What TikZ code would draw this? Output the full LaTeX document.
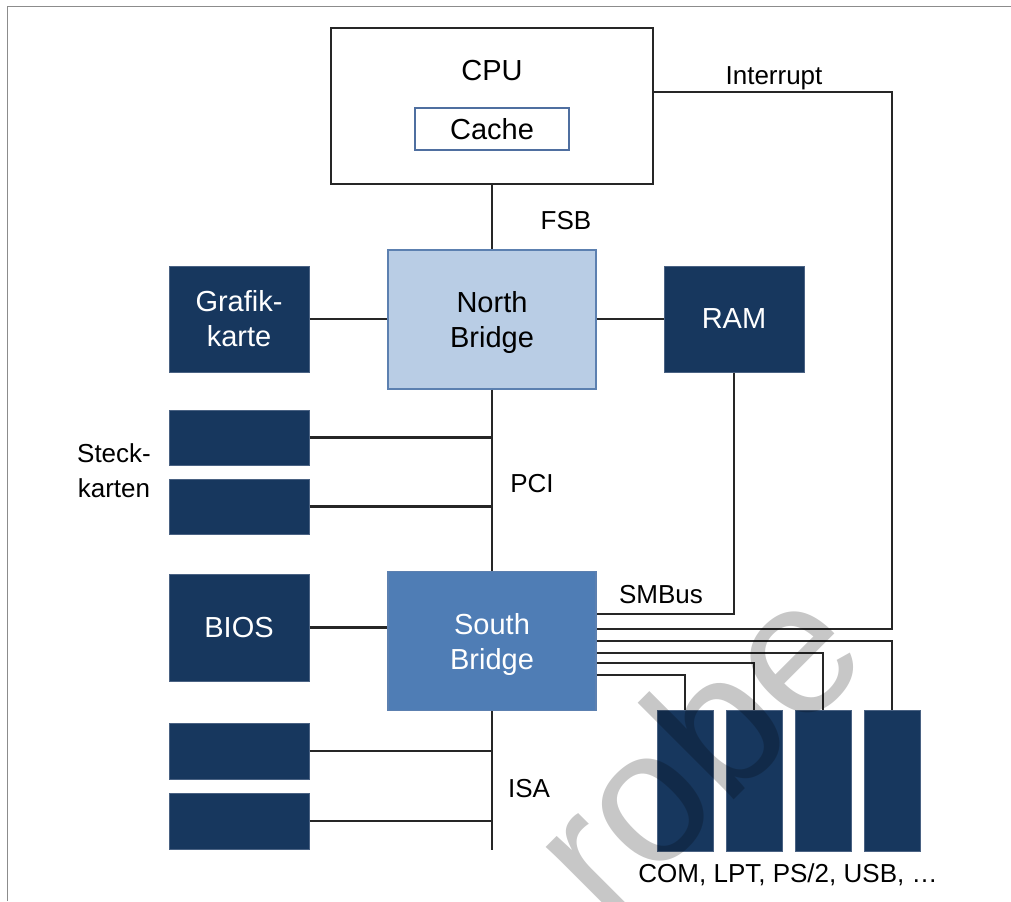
\documentclass[tikz,border=0pt]{standalone}
\usepackage{fontspec}
\setmainfont{Liberation Sans}
\usetikzlibrary{calc}

\definecolor{navy}{HTML}{17375E}
\definecolor{navyedge}{HTML}{4A6283}
\definecolor{nbfill}{HTML}{B9CDE5}
\definecolor{sbfill}{HTML}{4F7DB5}
\definecolor{bridgeedge}{HTML}{5C80B0}
\definecolor{cacheedge}{HTML}{4F6FA0}
\definecolor{framegray}{HTML}{8C8C8C}
\definecolor{wirec}{HTML}{262626}

\begin{document}
\begin{tikzpicture}[
  x=0.5pt, y=-0.5pt,
  font=\fontsize{13pt}{17.5pt}\selectfont,
  box/.style={rectangle, inner sep=0pt, align=center,
              font=\fontsize{14.5pt}{17.5pt}\selectfont},
  chip/.style={box, fill=navy, draw=navyedge, line width=0.5pt, text=white},
  bridge/.style={box, draw=bridgeedge, line width=0.6pt,
                 minimum width=104pt, minimum height=69.5pt, text depth=0pt},
  slotcard/.style={chip, minimum width=70pt, minimum height=27.5pt},
  bigchip/.style={chip, minimum width=70pt, minimum height=53pt},
  port/.style={chip, minimum width=28pt, minimum height=70.5pt},
  wire/.style={draw=wirec, line width=1.3pt},
  lbl/.style={anchor=base, inner sep=0pt}
]
\useasboundingbox (0,0) rectangle (1011,901);

% page frame (top and left edges only)
\draw[framegray, line width=0.9pt] (7.5,901) -- (7.5,6.5) -- (1011,6.5);

% processor with its cache
\node[box, draw=black!85, line width=1pt, minimum width=161pt, minimum height=78pt] (cpu) at (492,106) {};
\node[lbl, font=\fontsize{14.5pt}{17.5pt}\selectfont] (cputxt) at (492,80) {CPU};
\node[box, draw=cacheedge, line width=0.6pt, minimum width=77pt, minimum height=21pt] (cache) at (492,129) {Cache};

% chipset
\node[bridge, fill=nbfill] (nb) at (492,319.5) {North\\Bridge};
\node[bridge, fill=sbfill, text=white] (sb) at (492,641) {South\\Bridge};

% devices around the north bridge
\node[bigchip] (gfx) at (239,319) {Grafik-\\karte};
\node[bigchip] (ram) at (734,319) {RAM};

% PCI slot cards
\node[slotcard] (pci1) at (239,437.5) {};
\node[slotcard] (pci2) at (239,506.5) {};
\node[align=center, inner sep=0pt] (stecklbl) at (114,471) {Steck-\\karten};

% BIOS and ISA slot cards
\node[chip, minimum width=70pt, minimum height=53.5pt] (bios) at (239,627.5) {BIOS};
\node[slotcard, minimum height=28pt] (isa1) at (239,751) {};
\node[slotcard, minimum height=28pt] (isa2) at (239,821) {};
\coordinate (isaend) at (492,850);

% legacy / external ports
\node[port] (p1) at (685,780.5) {};
\node[port] (p2) at (754,780.5) {};
\node[port] (p3) at (823,780.5) {};
\node[port] (p4) at (892,780.5) {};

% attachment points on the south bridge's right side
\coordinate (sbsm)  at ($(sb.east)+(0,-27)$);
\coordinate (sbint) at ($(sb.east)+(0,-12)$);
\coordinate (sbp4)  at ($(sb.east)+(0,0)$);
\coordinate (sbp3)  at ($(sb.east)+(0,12)$);
\coordinate (sbp2)  at ($(sb.east)+(0,22)$);
\coordinate (sbp1)  at ($(sb.east)+(0,34)$);
\coordinate (cpuint) at ($(cpu.north east)+(0,65)$);

% buses
\draw[wire] (cpu.south) -- (nb.north);
\draw[wire] (gfx.east) -- (nb.west |- gfx.east);
\draw[wire] (nb.east |- ram.west) -- (ram.west);
\draw[wire] (nb.south) -- (sb.north);
\draw[wire] (pci1.east) -- (pci1.east -| nb.south);
\draw[wire] (pci2.east) -- (pci2.east -| nb.south);
\draw[wire] (bios.east) -- (sb.west |- bios.east);
\draw[wire] (sb.south) -- (isaend);
\draw[wire] (isa1.east) -- (isa1.east -| isaend);
\draw[wire] (isa2.east) -- (isa2.east -| isaend);
\draw[wire] (ram.south) |- (sbsm);
\draw[wire] (cpuint) -| (p4.north |- sbint) -- (sbint);
\draw[wire] (sbp4) -| (p4.north);
\draw[wire] (sbp3) -| (p3.north);
\draw[wire] (sbp2) -| (p2.north);
\draw[wire] (sbp1) -| (p1.north);

% bus labels
\node[lbl] (fsb) at (566,229) {FSB};
\node[lbl] (intl) at (774,84) {Interrupt};
\node[lbl] (pcil) at (532,492) {PCI};
\node[lbl] (smbl) at (661,603) {SMBus};
\node[lbl] (isal) at (529,797) {ISA};
\node[lbl] (portl) at (788,882) {COM, LPT, PS/2, USB, …};

% watermark
\begin{scope}
  \clip (0,0) rectangle (1011,901);
  \node[rotate=45, anchor=base east, inner sep=0pt, text=black, text opacity=0.22,
        font=\fontsize{94pt}{94pt}\selectfont] (wm) at (874,660) {robe};
\end{scope}
\end{tikzpicture}
\end{document}
